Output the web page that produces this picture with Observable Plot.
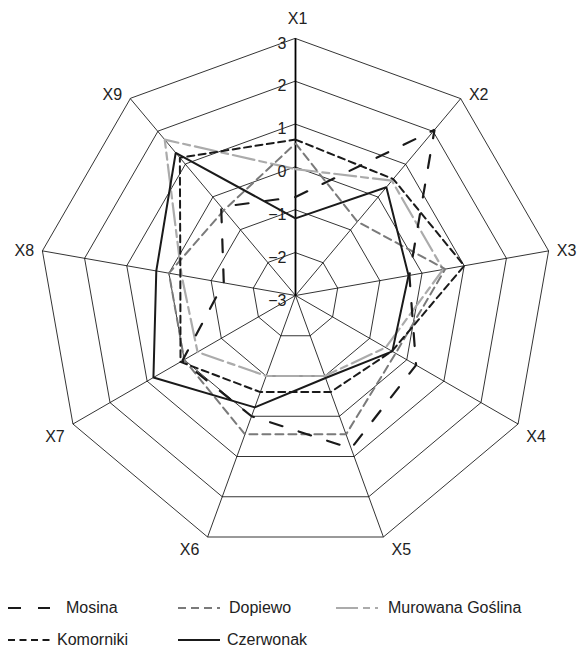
<!DOCTYPE html>
<html><head><meta charset="utf-8">
<script src="https://cdn.jsdelivr.net/npm/d3@7"></script>
<script src="https://cdn.jsdelivr.net/npm/@observablehq/plot@0.6"></script>
<style>
body{margin:0;background:#fff;font-family:"Liberation Sans",Arial,sans-serif;}
#legend{position:relative;width:587px;height:70px;font-size:16px;color:#222;}
.item{position:absolute;height:20px;display:flex;align-items:center;white-space:nowrap;}
.item svg{display:block;}
</style></head><body>
<div id="chart"></div>
<div id="legend"></div>
<script>
// ---- data ----
const axes = ["X1","X2","X3","X4","X5","X6","X7","X8","X9"];
const ticks = [-3,-2,-1,0,1,2,3];
const mosina    = [-0.7, 2.05, -0.3, 0.25, 0.8, 0.0, 0.05, -1.3, -0.3];
const dopiewo   = [0.55, -0.75, 0.55, -0.3, 0.45, 0.45, 0.0, 0.0, -0.4];
const murowana  = [-0.05, 0.5, 0.5, -0.57, -1.0, -1.0, -0.36, -0.3, 1.75];
const komorniki = [0.64, 0.55, 1.0, -0.4, -0.6, -0.6, 0.1, -0.27, 1.2];
const czerwonak = [-1.2, 0.3, -0.32, -0.39, -0.95, -0.22, 0.83, 0.3, 1.35];
const seriesNames = ["Mosina","Dopiewo","Murowana Goślina","Komorniki","Czerwonak"];

// ---- layout ----
const W = 587, H = 580, cx = 295, cy = 295, R = 257;
const vmin = ticks[0], vmax = ticks[ticks.length-1];
const U = R / (vmax - vmin);
const n = axes.length;
const ang = i => i * 2 * Math.PI / n;
const pt = (i, v) => ({x: (v - vmin) * Math.sin(ang(i)), y: (v - vmin) * Math.cos(ang(i))});

const styles = {
  "Mosina":           {stroke:"#1a1a1a", strokeWidth:2.2, dash:"13,17"},
  "Dopiewo":          {stroke:"#7a7a7a", strokeWidth:2.0, dash:"8,5"},
  "Murowana Goślina": {stroke:"#ababab", strokeWidth:2.2, dash:"22,5,7,5"},
  "Komorniki":        {stroke:"#1a1a1a", strokeWidth:2.0, dash:"7,4.5"},
  "Czerwonak":        {stroke:"#1a1a1a", strokeWidth:2.0, dash:null}
};
const values = {"Mosina":mosina,"Dopiewo":dopiewo,"Murowana Goślina":murowana,"Komorniki":komorniki,"Czerwonak":czerwonak};

// grid rings
const rings = ticks.slice(1).flatMap(t => axes.map((a,i) => ({ring:t, ...pt(i,t)})));
const spokes = axes.map((a,i) => { const p = pt(i,vmax); return {a, x1:0, y1:0, x2:p.x, y2:p.y}; });
// category labels: outside the outer vertex (pixel offsets converted to data units)
const axisLabels = axes.map((a,i) => {
  const s = Math.sin(ang(i)), c = Math.cos(ang(i)), p = pt(i, vmax);
  const dxp = Math.abs(s) < 0.01 ? 2 : (s > 0 ? 18 : -18);
  const dyp = c > 0.9 ? -20 : c > 0.5 ? -4 : c > 0 ? 0 : 12.5;
  return {a, x: p.x + dxp / U, y: p.y - dyp / U};
});

const drawOrder = ["Murowana Goślina","Dopiewo","Mosina","Komorniki","Czerwonak"];
const seriesMarks = drawOrder.map(s => {
  const st = styles[s];
  const d = values[s].map((v,i) => ({s, ...pt(i,v)}));
  return Plot.line(d, {x:"x", y:"y", curve:"linear-closed", stroke:st.stroke, strokeWidth:st.strokeWidth,
    strokeDasharray: st.dash || undefined, strokeLinejoin:"miter"});
});

const chart = Plot.plot({
  width: W, height: H,
  marginLeft:0, marginRight:0, marginTop:0, marginBottom:0,
  style:{fontFamily:'"Liberation Sans",Arial,sans-serif', background:"#fff", color:"#222", overflow:"visible"},
  x:{domain:[-cx/U, (W-cx)/U], range:[0,W], axis:null},
  y:{domain:[-(H-cy)/U, cy/U], range:[H,0], axis:null},
  marks:[
    Plot.line(rings, {x:"x", y:"y", z:"ring", curve:"linear-closed", stroke:"#000", strokeWidth:0.8}),
    Plot.link(spokes, {x1:"x1", y1:"y1", x2:"x2", y2:"y2", stroke:"#000", strokeWidth:0.8}),
    Plot.link(spokes.slice(0,1), {x1:"x1", y1:"y1", x2:"x2", y2:"y2", stroke:"#000", strokeWidth:1.8}),
    ...seriesMarks,
    Plot.text(ticks, {x:0, y:d => d - vmin, text:d => d < 0 ? "\u2212" + Math.abs(d) : String(d),
      textAnchor:"end", dx:-9, dy:5, fontSize:16, fill:"#222"}),
    Plot.text(axisLabels, {x:"x", y:"y", text:"a", fontSize:16, fill:"#222"})
  ]
});
document.getElementById("chart").appendChild(chart);

// legend
const legendPos = [
  {s:"Mosina", left:7, top:18, gap:15},
  {s:"Dopiewo", left:177, top:18, gap:8},
  {s:"Murowana Goślina", left:335, top:18, gap:9},
  {s:"Komorniki", left:7, top:50, gap:6},
  {s:"Czerwonak", left:177, top:50, gap:6}
];
const lg = document.getElementById("legend");
legendPos.forEach(p => {
  const st = styles[p.s];
  const div = document.createElement("div");
  div.className = "item";
  div.style.left = p.left + "px";
  div.style.top = p.top + "px";
  const sw = 44;
  div.innerHTML = `<svg width="${sw}" height="20"><line x1="1" y1="10" x2="${sw-1}" y2="10" stroke="${st.stroke}" stroke-width="${st.strokeWidth}" ${st.dash ? `stroke-dasharray="${st.dash}"` : ""}/></svg><span style="margin-left:${p.gap}px">${p.s}</span>`;
  lg.appendChild(div);
});
</script>
</body></html>
